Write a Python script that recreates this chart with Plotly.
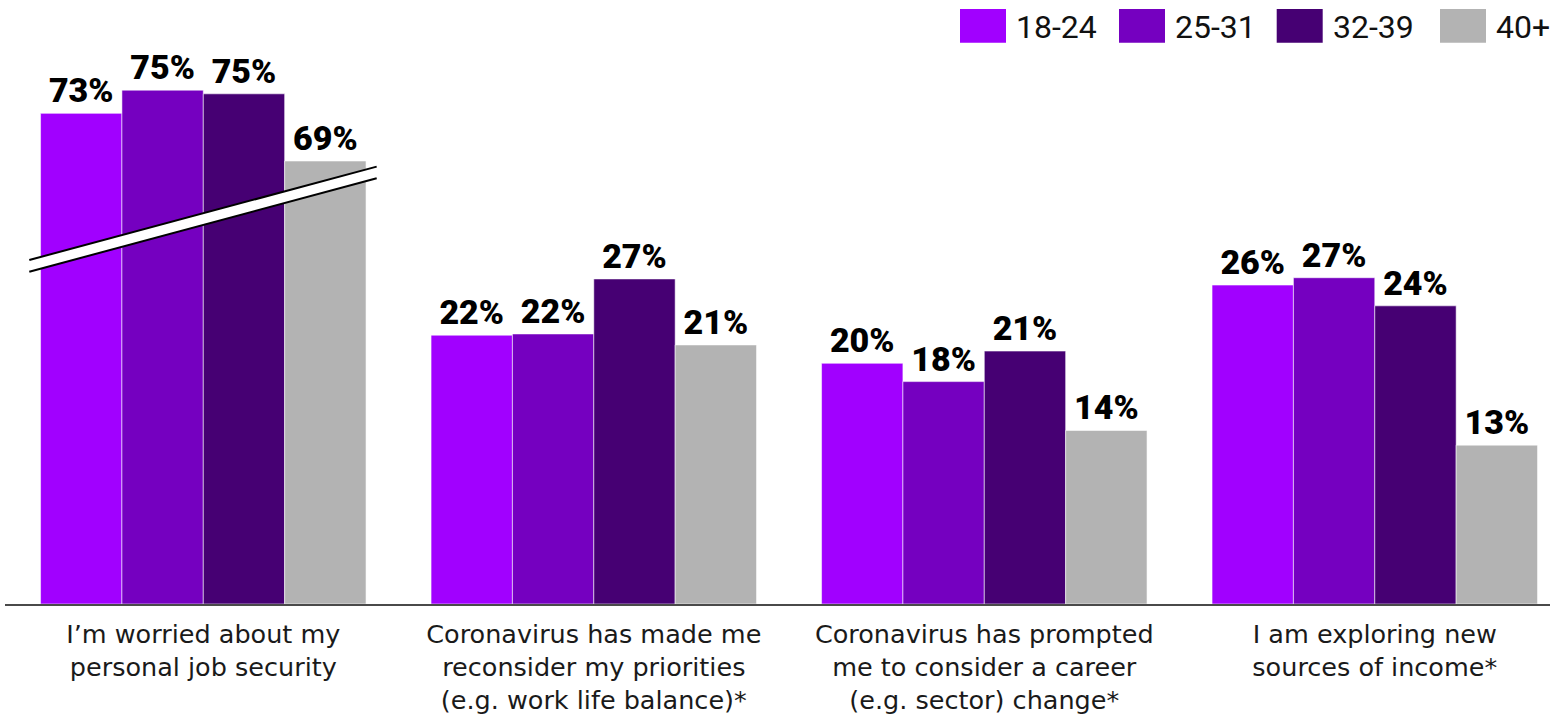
import plotly.graph_objects as go

# ---------------- data ----------------
categories = [
    "I’m worried about my<br>personal job security",
    "Coronavirus has made me<br>reconsider my priorities<br>(e.g. work life balance)*",
    "Coronavirus has prompted<br>me to consider a career<br>(e.g. sector) change*",
    "I am exploring new<br>sources of income*",
]
series_names = ["18-24", "25-31", "32-39", "40+"]
age_18_24 = [73.0, 22.0, 19.7, 26.1]
age_25_31 = [74.9, 22.1, 18.2, 26.7]
age_32_39 = [74.6, 26.6, 20.7, 24.4]
age_40_plus = [69.1, 21.2, 14.2, 13.0]
series_values = [age_18_24, age_25_31, age_32_39, age_40_plus]

# first category is drawn on a broken axis: this amount is cut out of its bars
AXIS_BREAK = 32.85
BROKEN_CATEGORY = 0

# ---------------- style ----------------
colors = ["#A100FF", "#7500C0", "#460073", "#B3B3B3"]
W, H = 1550, 715
M_L, M_R, M_T, M_B = 5, 0, 60, 111
PX_PER_UNIT = 12.22
plot_w = W - M_L - M_R
plot_h = H - M_T - M_B

fig = go.Figure()
for name, vals, col in zip(series_names, series_values, colors):
    shown = [v - AXIS_BREAK if i == BROKEN_CATEGORY else v for i, v in enumerate(vals)]
    fig.add_trace(go.Bar(
        name=name,
        x=categories,
        y=shown,
        text=[f"{round(v)}%" for v in vals],
        textposition="outside",
        textfont=dict(family="Roboto", size=34, color="#000000", weight=900),
        cliponaxis=False,
        marker=dict(color=col, line=dict(color="rgba(255,255,255,0.55)", width=1)),
        showlegend=False,
        hoverinfo="skip",
    ))

# axis break mark across the first group (data coords)
bx0, bx1 = -0.4456, 0.444
up0, up1 = 28.15, 35.79
lo0, lo1 = 27.19, 34.84
fig.add_shape(type="path",
              path=f"M {bx0},{lo0} L {bx1},{lo1} L {bx1},{up1} L {bx0},{up0} Z",
              xref="x", yref="y", fillcolor="white", line=dict(width=0), layer="above")
for a, b in ((up0, up1), (lo0, lo1)):
    fig.add_shape(type="line", x0=bx0, x1=bx1, y0=a, y1=b, xref="x", yref="y",
                  line=dict(color="black", width=2), layer="above")

# custom legend (large swatches) at top right
def px_x(p):
    return (p - M_L) / plot_w

def px_y(p):
    return (H - M_B - p) / plot_h

legend_left = [960, 1119, 1276.7, 1440]
sw_w, sw_top, sw_bot = 46, 9, 42.7
for name, col, lx in zip(series_names, colors, legend_left):
    fig.add_shape(type="rect", xref="paper", yref="paper",
                  x0=px_x(lx), x1=px_x(lx + sw_w), y0=px_y(sw_bot), y1=px_y(sw_top),
                  fillcolor=col, line=dict(width=0))
    fig.add_annotation(xref="paper", yref="paper", x=px_x(lx + 54), y=px_y(27),
                       xanchor="left", yanchor="middle", text=name, showarrow=False,
                       font=dict(family="Roboto", size=32, color="#111111"))

fig.update_layout(
    width=W, height=H,
    margin=dict(l=M_L, r=M_R, t=M_T, b=M_B, pad=0),
    paper_bgcolor="white", plot_bgcolor="white",
    barmode="group", bargap=0.1665, bargroupgap=0,
    xaxis=dict(range=[-0.5078, 3.4487], showline=True, linecolor="#4a4a4a", linewidth=2,
               ticks="", showgrid=False, zeroline=False, ticklabelstandoff=6,
               tickfont=dict(family="DejaVu Sans", size=25.5, color="#1a1a1a")),
    yaxis=dict(range=[0, plot_h / PX_PER_UNIT], visible=False, showgrid=False, zeroline=False),
)

fig.write_html("out.html")
